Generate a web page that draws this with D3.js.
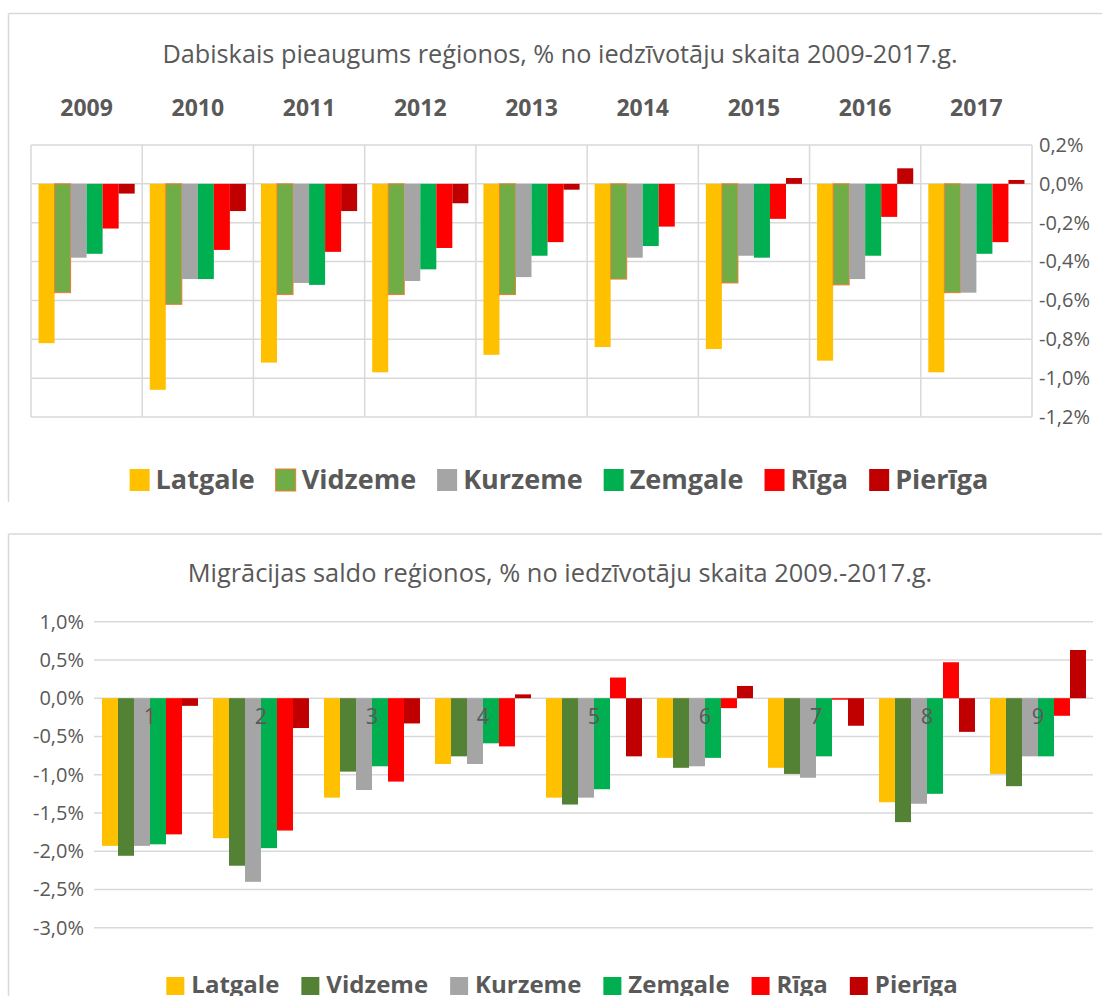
<!DOCTYPE html>
<html lang="lv">
<head>
<meta charset="UTF-8">
<title>Dabiskais pieaugums un migrācijas saldo reģionos</title>
<script src="https://cdn.jsdelivr.net/npm/d3@7"></script>
<style>
    body{margin:0;background:#fff;}
    svg{display:block;font-family:"Open Sans",sans-serif;}
</style>
</head>
<body>
<div id="grafiks"></div>
<script>
// kategorijas
var years = ["2009","2010","2011","2012","2013","2014","2015","2016","2017"];
var groups = ["1","2","3","4","5","6","7","8","9"];
var regions = ["Latgale","Vidzeme","Kurzeme","Zemgale","Rīga","Pierīga"];

// dabiskais pieaugums, % (2009-2017)
var latgaleDab = [-0.82,-1.06,-0.92,-0.97,-0.88,-0.84,-0.85,-0.91,-0.97];
var vidzemeDab = [-0.56,-0.62,-0.57,-0.57,-0.57,-0.49,-0.51,-0.52,-0.56];
var kurzemeDab = [-0.38,-0.49,-0.51,-0.50,-0.48,-0.38,-0.37,-0.49,-0.56];
var zemgaleDab = [-0.36,-0.49,-0.52,-0.44,-0.37,-0.32,-0.38,-0.37,-0.36];
var rigaDab    = [-0.23,-0.34,-0.35,-0.33,-0.30,-0.22,-0.18,-0.17,-0.30];
var pierigaDab = [-0.05,-0.14,-0.14,-0.10,-0.03, 0.00, 0.03, 0.08, 0.02];

// migrācijas saldo, %
var latgaleMig = [-1.93,-1.83,-1.30,-0.86,-1.30,-0.78,-0.91,-1.36,-0.99];
var vidzemeMig = [-2.06,-2.19,-0.96,-0.76,-1.39,-0.91,-0.99,-1.62,-1.15];
var kurzemeMig = [-1.93,-2.40,-1.20,-0.86,-1.30,-0.89,-1.04,-1.38,-0.76];
var zemgaleMig = [-1.91,-1.96,-0.89,-0.59,-1.19,-0.78,-0.76,-1.25,-0.76];
var rigaMig    = [-1.78,-1.73,-1.09,-0.63, 0.27,-0.13,-0.02, 0.47,-0.23];
var pierigaMig = [-0.10,-0.39,-0.33, 0.05,-0.76, 0.16,-0.36,-0.44, 0.63];

// ass iedaļas
var topTicks = [0.2,0,-0.2,-0.4,-0.6,-0.8,-1.0,-1.2];
var bottomTicks = [1,0.5,0,-0.5,-1,-1.5,-2,-2.5,-3];

var colorsTop = ["#FFC000","#70AD47","#A5A5A5","#00B050","#FF0000","#C00000"];
var colorsBottom = ["#FFC000","#548235","#A5A5A5","#00B050","#FF0000","#C00000"];

var dabSeries = [latgaleDab,vidzemeDab,kurzemeDab,zemgaleDab,rigaDab,pierigaDab];
var migSeries = [latgaleMig,vidzemeMig,kurzemeMig,zemgaleMig,rigaMig,pierigaMig];

var textColor = "#595959";
var gridColor = "#d9d9d9";

var lv = d3.formatLocale({decimal: ",", thousands: " ", grouping: [3], currency: ["", ""], minus: "-"});
var fmt = function(d){ return lv.format(".1f")(d) + "%"; };

var w = 1102, h = 996;
var svg = d3.select("#grafiks").append("svg")
    .attr("width", w)
    .attr("height", h);

// rāmji
function frame(y0, y1) {
    svg.append("line").attr("x1", 8.5).attr("x2", w).attr("y1", y0).attr("y2", y0)
        .attr("stroke", gridColor).attr("stroke-width", 1.5);
    svg.append("line").attr("x1", 8.5).attr("x2", 8.5).attr("y1", y0).attr("y2", y1)
        .attr("stroke", gridColor).attr("stroke-width", 1.5);
}
frame(13.5, 502);
frame(534, h);

function title(txt, y, targetW) {
    var t = svg.append("text")
        .attr("x", 560).attr("y", y)
        .attr("text-anchor", "middle")
        .attr("fill", textColor)
        .attr("font-size", 24)
        .text(txt);
    var len = t.node().getComputedTextLength();
    t.attr("font-size", 24 * targetW / len);
}

function legend(cx, y, sqW, sqH, fontSize, padText, padItem, colors, outline) {
    var g = svg.append("g");
    var x = 0;
    regions.forEach(function(r, i) {
        var item = g.append("g").attr("transform", "translate(" + x + ",0)");
        item.append("rect")
            .attr("x", 0).attr("y", y)
            .attr("width", sqW).attr("height", sqH)
            .attr("fill", colors[i])
            .attr("stroke", (outline && i === 1) ? "#ED7D31" : "none")
            .attr("stroke-width", 1);
        var t = item.append("text")
            .attr("x", sqW + padText)
            .attr("y", y + sqH - 2)
            .attr("font-size", fontSize)
            .attr("font-weight", "bold")
            .attr("fill", textColor)
            .text(r);
        x += sqW + padText + t.node().getComputedTextLength() + padItem;
    });
    var total = x - padItem;
    g.attr("transform", "translate(" + (cx - total / 2) + ",0)");
}

// ===== 1. grafiks: dabiskais pieaugums =====
title("Dabiskais pieaugums reģionos, % no iedzīvotāju skaita 2009-2017.g.", 63, 796);

var x0 = d3.scaleBand().domain(years).range([31, 1032]);
var x1 = d3.scaleBand().domain(regions).range([0, x0.bandwidth()]).paddingOuter(0.47);
var y = d3.scaleLinear().domain([-1.2, 0.2]).range([417, 145]);

var grid1 = svg.append("g");
grid1.selectAll("line.h")
    .data(topTicks)
    .enter()
    .append("line")
    .attr("x1", 31).attr("x2", 1032)
    .attr("y1", function(d){ return y(d); })
    .attr("y2", function(d){ return y(d); })
    .attr("stroke", gridColor).attr("stroke-width", 1.5);
grid1.selectAll("line.v")
    .data(years.concat(["end"]))
    .enter()
    .append("line")
    .attr("x1", function(d){ return d === "end" ? 1032 : x0(d); })
    .attr("x2", function(d){ return d === "end" ? 1032 : x0(d); })
    .attr("y1", y(0.2)).attr("y2", y(-1.2))
    .attr("stroke", gridColor).attr("stroke-width", 1.5);

var yAxis = svg.append("g")
    .attr("transform", "translate(1032,0)")
    .call(d3.axisRight(y).tickValues(topTicks).tickFormat(fmt).tickSize(0).tickPadding(7));
yAxis.select(".domain").remove();
yAxis.selectAll("text").attr("font-size", 20).attr("fill", textColor).attr("font-family", "Open Sans");

svg.selectAll("text.year")
    .data(years)
    .enter()
    .append("text")
    .attr("class", "year")
    .attr("x", function(d){ return x0(d) + x0.bandwidth() / 2; })
    .attr("y", 116)
    .attr("text-anchor", "middle")
    .attr("font-size", 23)
    .attr("font-weight", "bold")
    .attr("fill", textColor)
    .text(function(d){ return d; });

var yearG = svg.selectAll("g.yearG")
    .data(years)
    .enter()
    .append("g")
    .attr("class", "yearG")
    .attr("transform", function(d){ return "translate(" + x0(d) + ",0)"; });

yearG.selectAll("rect")
    .data(function(d, j){ return regions.map(function(r, i){ return {r: r, i: i, v: dabSeries[i][j]}; }); })
    .enter()
    .append("rect")
    .attr("x", function(d){ return x1(d.r); })
    .attr("y", function(d){ return y(Math.max(0, d.v)); })
    .attr("width", x1.bandwidth())
    .attr("height", function(d){ return Math.abs(y(d.v) - y(0)); })
    .attr("fill", function(d){ return colorsTop[d.i]; })
    .attr("stroke", function(d){ return d.i === 1 ? "#ED7D31" : "none"; })
    .attr("stroke-width", 1);

legend(559, 469, 20, 22, 27, 6, 21, colorsTop, true);

// ===== 2. grafiks: migrācijas saldo =====
title("Migrācijas saldo reģionos, % no iedzīvotāju skaita 2009.-2017.g.", 582, 745);

var xb = d3.scaleBand().domain(groups).range([94.5, 1093.5]);
var xb1 = d3.scaleBand().domain(regions).range([0, xb.bandwidth()]).paddingOuter(0.47);
var yb = d3.scaleLinear().domain([-3, 1]).range([927.7, 621.7]);

svg.append("g").selectAll("line")
    .data(bottomTicks)
    .enter()
    .append("line")
    .attr("x1", 94).attr("x2", 1093)
    .attr("y1", function(d){ return yb(d); })
    .attr("y2", function(d){ return yb(d); })
    .attr("stroke", gridColor).attr("stroke-width", 1.5);

var ybAxis = svg.append("g")
    .attr("transform", "translate(94,0)")
    .call(d3.axisLeft(yb).tickValues(bottomTicks).tickFormat(fmt).tickSize(0).tickPadding(10));
ybAxis.select(".domain").remove();
ybAxis.selectAll("text").attr("font-size", 20).attr("fill", textColor).attr("font-family", "Open Sans");

var grpG = svg.selectAll("g.grpG")
    .data(groups)
    .enter()
    .append("g")
    .attr("class", "grpG")
    .attr("transform", function(d){ return "translate(" + xb(d) + ",0)"; });

grpG.selectAll("rect")
    .data(function(d, j){ return regions.map(function(r, i){ return {r: r, i: i, v: migSeries[i][j]}; }); })
    .enter()
    .append("rect")
    .attr("x", function(d){ return xb1(d.r); })
    .attr("y", function(d){ return yb(Math.max(0, d.v)); })
    .attr("width", xb1.bandwidth())
    .attr("height", function(d){ return Math.abs(yb(d.v) - yb(0)); })
    .attr("fill", function(d){ return colorsBottom[d.i]; });

svg.selectAll("text.grp")
    .data(groups)
    .enter()
    .append("text")
    .attr("class", "grp")
    .attr("x", function(d){ return xb(d) + xb.bandwidth() / 2; })
    .attr("y", yb(0) + 26)
    .attr("text-anchor", "middle")
    .attr("font-size", 22)
    .attr("fill", textColor)
    .text(function(d){ return d; });

legend(562, 977, 18, 18, 24, 7, 22, colorsBottom, false);
</script>
</body>
</html>
